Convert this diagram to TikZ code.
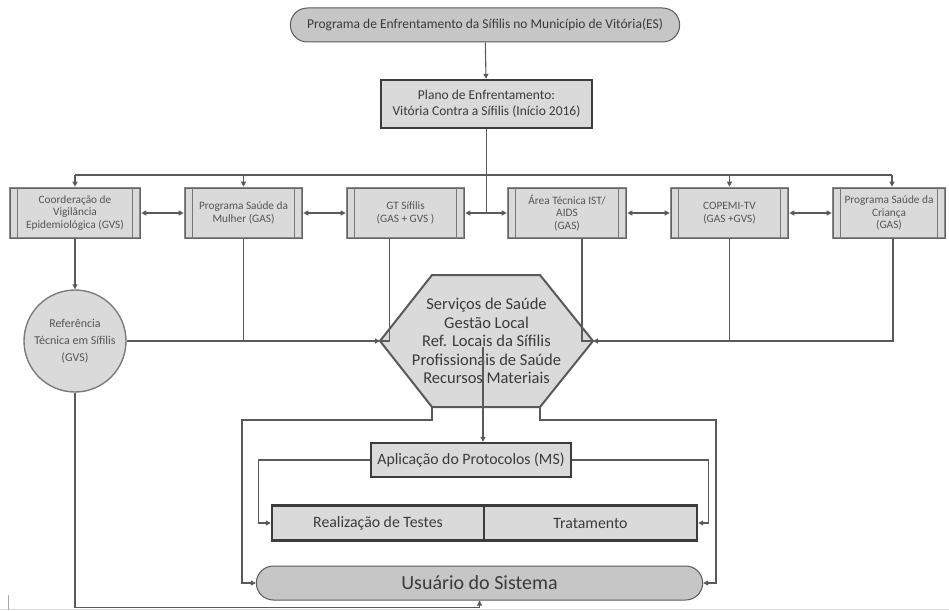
\documentclass[tikz,border=0pt]{standalone}
\usepackage{fontspec}
\setmainfont{Carlito}
\usetikzlibrary{arrows.meta,shapes.misc,calc}

\definecolor{linec}{HTML}{5A5A5A}
\definecolor{boxfill}{HTML}{DADADA}
\definecolor{boxedge}{HTML}{8A8A8A}
\definecolor{darkedge}{HTML}{3C3C3C}
\definecolor{pillfill}{HTML}{C6C6C6}
\definecolor{txt}{HTML}{3A3A3A}
\definecolor{lighttxt}{HTML}{555555}

\tikzset{
  conn/.style={draw=linec, line width=1.1pt},
  arr/.style={conn, -{Triangle[length=5pt,width=5pt]}},
  dbl/.style={conn, {Triangle[length=5pt,width=5pt]}-{Triangle[length=5pt,width=5pt]}},
  procbox/.style={draw=boxedge, line width=2.6pt, fill=boxfill,
    postaction={draw=darkedge!80, line width=0.6pt},
    minimum height=50pt, align=center, inner sep=1pt,
    font=\fontsize{11.3}{12.6}\selectfont, text=lighttxt},
  bevelbox/.style={draw=darkedge, line width=2.4pt, fill=boxfill,
    align=center, inner sep=2pt, text=txt},
  pill/.style={rounded rectangle, draw=linec, line width=1pt, fill=pillfill,
    align=center, text=txt},
}

\begin{document}
\begin{tikzpicture}[x=1pt,y=-1pt]
\useasboundingbox (0,0) rectangle (949,610);

% top programme and plan
\node[pill, minimum width=396pt, minimum height=34pt,
      font=\fontsize{13.5}{15}\selectfont] (prog) at (485,25)
  {Programa de Enfrentamento da Sífilis no Município de Vitória(ES)};
\node[bevelbox, minimum width=211pt, minimum height=48pt,
      font=\fontsize{13.5}{16}\selectfont] (plano) at (486.5,104)
  {Plano de Enfrentamento:\\Vitória Contra a Sífilis (Início 2016)};
\draw[arr] (prog) -- (plano);

% row of coordinating bodies
\node[procbox, minimum width=130pt] (coord)   at (75,213)
  {Coorderação de\\Vigilância\\Epidemiológica (GVS)};
\node[procbox, minimum width=117pt] (mulher)  at (243.5,213)
  {Programa Saúde da\\Mulher (GAS)};
\node[procbox, minimum width=117pt] (gt)      at (405.5,213)
  {GT Sífilis\\(GAS + GVS )};
\node[procbox, minimum width=118pt] (area)    at (567,213)
  {Área Técnica IST/\\AIDS\\(GAS)};
\node[procbox, minimum width=117pt] (copemi)  at (729.5,213)
  {COPEMI-TV\\(GAS +GVS)};
\node[procbox, minimum width=112pt] (crianca) at (889,213)
  {Programa Saúde da\\Criança\\(GAS)};

% inner side bars of the process boxes
\foreach \b in {coord,mulher,gt,area,copemi,crianca}{
  \draw[darkedge!70, line width=0.7pt]
    ($(\b.north west)+(9,0)$) -- ($(\b.south west)+(9,0)$);
  \draw[darkedge!70, line width=0.7pt]
    ($(\b.north east)+(-9,0)$) -- ($(\b.south east)+(-9,0)$);
}

% distribution from the plan
\coordinate (busL) at (75,175);
\coordinate (busR) at (892,175);
\coordinate (split) at (486.5,213);
\draw[conn] (plano.south) -- (split);
\draw[conn] (busL) -- (busR);
\draw[arr] (busL) -- (coord.north);
\draw[arr] (mulher.north |- busL) -- (mulher.north);
\draw[arr] (copemi.north |- busL) -- (copemi.north);
\draw[arr] (busR) -- (busR |- crianca.north);
\draw[arr] (split) -- (gt.east);
\draw[arr] (split) -- (area.west);

% links between neighbours
\draw[dbl] (coord.east) -- (mulher.west);
\draw[dbl] (mulher.east) -- (gt.west);
\draw[dbl] (area.east) -- (copemi.west);
\draw[dbl] (copemi.east) -- (crianca.west);

% technical reference
\node[circle, draw=boxedge!90!black, line width=1.4pt, fill=boxfill,
      minimum size=102pt, inner sep=0pt, align=center, text=lighttxt,
      font=\fontsize{12}{17}\selectfont] (ref) at (75,341)
  {Referência\\Técnica em Sífilis\\(GVS)};
\draw[arr] (coord.south) -- (ref.north);

% health services hexagon
\coordinate (hexW)  at (380,341);
\coordinate (hexE)  at (593,341);
\coordinate (hexBL) at (432,407);
\coordinate (hexBR) at (540,407);
\draw[draw=darkedge!85, line width=2pt, fill=boxfill]
  (hexW) -- (432,275) -- (540,275) -- (hexE) -- (hexBR) -- (hexBL) -- cycle;
\node[align=center, text=txt, font=\fontsize{16.5}{18.5}\selectfont] (hex) at (486.5,341)
  {Serviços de Saúde\\Gestão Local\\Ref. Locais da Sífilis\\Profissionais de Saúde\\Recursos Materiais};

\draw[arr] (ref.east) -- (hexW);
\draw[conn] (mulher.south) -- (mulher.south |- hexW);
\draw[conn] ($(gt.south)+(-16,0)$) |- (hexW);
\draw[arr] ($(crianca.south)+(4,0)$) |- (hexE);
\draw[conn] (copemi.south) -- (copemi.south |- hexE);
\draw[conn] ($(area.south)+(15,0)$) |- (hexE);

% protocols
\node[bevelbox, minimum width=200pt, minimum height=34pt,
      font=\fontsize{15.8}{17}\selectfont] (apl) at (471,460)
  {Aplicação do Protocolos (MS)};
\node[bevelbox, minimum width=212pt, minimum height=35pt,
      font=\fontsize{15.8}{17}\selectfont] (real) at (378,523)
  {Realização de Testes};
\node[bevelbox, minimum width=213pt, minimum height=35pt,
      font=\fontsize{15.8}{17}\selectfont] (trat) at (590.5,523)
  {Tratamento};

\coordinate (hexIn) at (483,347);
\draw[arr] (hexIn) -- (hexIn |- apl.north);
\draw[arr] (apl.west) -- ++(-111,0) |- (real.west);
\draw[arr] (apl.east) -- ++(136,0) |- (trat.east);

% system user
\node[pill, minimum width=453pt, minimum height=34pt,
      font=\fontsize{20}{22}\selectfont] (usu) at (479.5,583)
  {Usuário do Sistema};

\draw[arr] (hexBL) -- ++(0,13) -- ++(-190,0) |- (usu.west);
\draw[arr] (hexBR) -- ++(0,13) -- ++(176,0) |- (usu.east);
\draw[arr] (ref.south) -- ++(0,215) -| (usu.south);

% page edge marks
\draw[gray!30, line width=0.6pt] (0,609) -- (949,609);
\draw[gray!70, line width=0.8pt] (8,595) -- (8,610);
\end{tikzpicture}
\end{document}
